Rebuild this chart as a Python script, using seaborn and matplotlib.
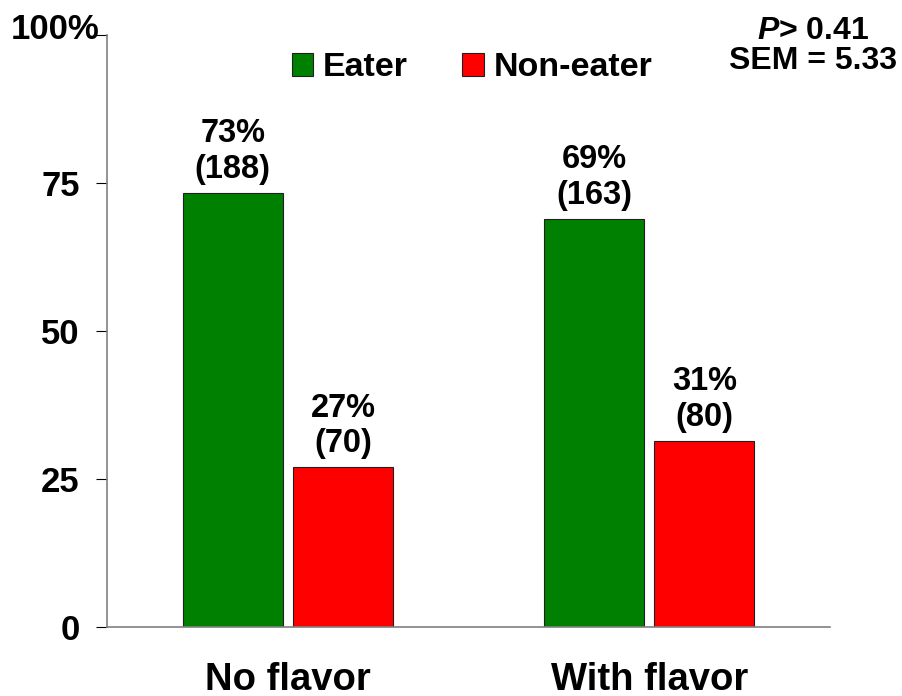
import matplotlib
matplotlib.use("Agg")
import matplotlib.pyplot as plt
import matplotlib.transforms as mtransforms
import pandas as pd
import seaborn as sns

groups = ["No flavor", "No flavor", "With flavor", "With flavor"]
status = ["Eater", "Non-eater", "Eater", "Non-eater"]
percent = [73.3, 27.0, 68.9, 31.4]
pct_labels = ["73%", "27%", "69%", "31%"]
counts = [188, 70, 163, 80]
ytick_vals = [0, 25, 50, 75, 100]
ytick_labels = ["0", "25", "50", "75", "100%"]

df = pd.DataFrame({"group": groups, "status": status, "percent": percent})

sns.set_theme(style="white")
plt.rcParams["font.family"] = ["Liberation Sans", "DejaVu Sans"]
plt.rcParams["font.weight"] = "bold"
plt.rcParams["mathtext.fontset"] = "custom"
plt.rcParams["mathtext.bfit"] = "Liberation Sans:italic:bold"
for k in ["text.color", "axes.labelcolor", "xtick.color", "ytick.color"]:
    plt.rcParams[k] = "black"

fig = plt.figure(figsize=(9.02, 6.96), dpi=100)
ax = fig.add_axes([0.119, 0.099, 0.801, 0.851])

sns.barplot(
    data=df,
    x="group",
    y="percent",
    hue="status",
    palette={"Eater": "#008000", "Non-eater": "#FF0000"},
    width=0.61,
    gap=0.09,
    edgecolor="#202020",
    linewidth=0.8,
    saturation=1,
    errorbar=None,
    ax=ax,
)

# labels above bars
for container, idx in zip(ax.containers, [[0, 2], [1, 3]]):
    labels = [f"{pct_labels[i]}\n({counts[i]})" for i in idx]
    ax.bar_label(container, labels=labels, padding=6, fontsize=23.5,
                 fontweight="bold", linespacing=1.18)

ax.set_xlim(-0.5, 1.5)
ax.set_ylim(0, 100)
ax.set_yticks(ytick_vals)
ax.set_yticklabels(ytick_labels, fontsize=25, fontweight="bold")
ax.set_xticks([0, 1])
ax.set_xticklabels(["No flavor", "With flavor"], fontsize=27.5, fontweight="bold")
ax.set_xticks([-0.5, 0.5, 1.5], minor=True)
ax.tick_params(axis="x", which="major", length=0, pad=25)
ax.tick_params(axis="x", which="minor", length=8, direction="out", color="black", width=0.8)
ax.tick_params(axis="y", length=8, direction="out", color="black", width=0.8, pad=12, left=True)
ax.set_xlabel("")
ax.set_ylabel("")

# the top label sits right against its tick, a little above it
top = ax.get_yticklabels()[-1]
top.set_transform(top.get_transform() + mtransforms.ScaledTranslation(14.5 / 72, 6 / 72, fig.dpi_scale_trans))

for s in ["top", "right"]:
    ax.spines[s].set_visible(False)
for s in ["left", "bottom"]:
    ax.spines[s].set_color("#808080")
    ax.spines[s].set_linewidth(1.2)

leg = ax.legend(
    loc="center",
    bbox_to_anchor=(0.505, 0.944),
    ncol=2,
    frameon=False,
    fontsize=24.5,
    handlelength=0.62,
    handleheight=0.62,
    handletextpad=0.3,
    columnspacing=1.6,
    borderpad=0,
)
for t in leg.get_texts():
    t.set_fontweight("bold")
for h in leg.legend_handles:
    h.set_edgecolor("#202020")
    h.set_linewidth(0.8)

fig.text(0.901, 0.955, r"$\mathbfit{P}$" + "> 0.41", ha="center", va="center",
         fontsize=23, fontweight="bold")
fig.text(0.901, 0.912, "SEM = 5.33", ha="center", va="center",
         fontsize=23, fontweight="bold")

fig.savefig("out.png", dpi=100)
